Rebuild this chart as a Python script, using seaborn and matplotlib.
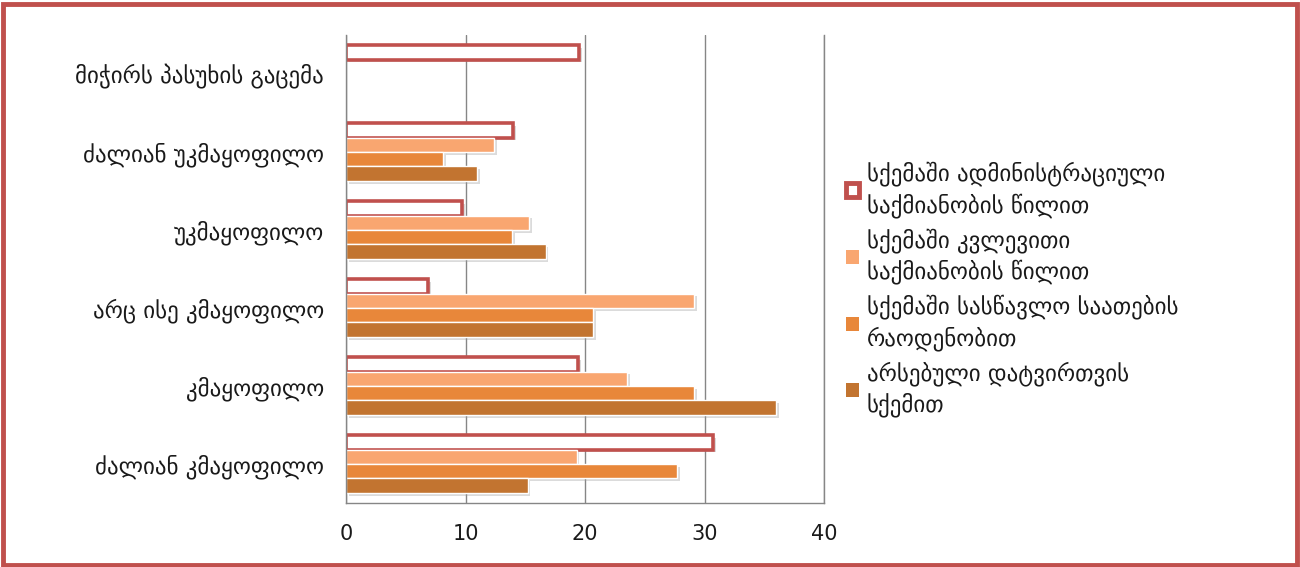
import matplotlib
matplotlib.use("Agg")
import matplotlib.pyplot as plt
import matplotlib.patheffects as pe
from matplotlib.patches import Patch, Rectangle
from matplotlib.ticker import FixedLocator
import seaborn as sns
import pandas as pd

categories = ["მიჭირს პასუხის გაცემა", "ძალიან უკმაყოფილო", "უკმაყოფილო",
              "არც ისე კმაყოფილო", "კმაყოფილო", "ძალიან კმაყოფილო"]
series = ["სქემაში ადმინისტრაციული\nსაქმიანობის წილით",
          "სქემაში კვლევითი\nსაქმიანობის წილით",
          "სქემაში სასწავლო საათების\nრაოდენობით",
          "არსებული დატვირთვის\nსქემით"]
admin = [19.5, 14.0, 9.7, 6.9, 19.4, 30.7]
research = [0, 12.4, 15.3, 29.1, 23.5, 19.3]
teaching = [0, 8.1, 13.9, 20.7, 29.1, 27.7]
current = [0, 11.0, 16.7, 20.7, 36.0, 15.2]
xticks = [0, 10, 20, 30, 40]

c_red = "#C0504D"
colors = ["#FFFFFF", "#F9A670", "#E8873A", "#C27430"]

rows = []
for s, vals in zip(series, [admin, research, teaching, current]):
    for c, v in zip(categories, vals):
        rows.append({"cat": c, "series": s, "value": v})
df = pd.DataFrame(rows)

sns.set_style("white")
plt.rcParams['font.family'] = ['DejaVu Sans']

fig = plt.figure(figsize=(13, 5.67), dpi=100)
ax = fig.add_axes([346/1300, 64/567, 478/1300, 468/567])

sns.barplot(data=df, y="cat", x="value", hue="series", order=categories,
            hue_order=series, palette=colors, saturation=1, orient="h", width=0.74,
            dodge=True, ax=ax, legend=False, errorbar=None)

shadow = [pe.SimplePatchShadow(offset=(2, -2), shadow_rgbFace="#999999", alpha=0.35), pe.Normal()]
for i, cont in enumerate(ax.containers):
    for bar in cont:
        if bar.get_width() <= 0:
            bar.set_visible(False)
            continue
        if i == 0:
            bar.set_facecolor("white")
            bar.set_edgecolor(c_red)
            bar.set_linewidth(2.6)
        else:
            bar.set_edgecolor("white")
            bar.set_linewidth(1.0)
        bar.set_path_effects(shadow)

ax.set_xlim(0, 40)
ax.set_ylim(5.5, -0.5)
ax.xaxis.set_major_locator(FixedLocator(xticks))
ax.set_xticklabels([str(t) for t in xticks])
ax.grid(axis="x", color="#868686", linewidth=1.0)
ax.set_axisbelow(True)
ax.set_xlabel("")
ax.set_ylabel("")
ax.spines["top"].set_visible(False)
for side in ["left", "bottom", "right"]:
    ax.spines[side].set_color("#868686")
    ax.spines[side].set_linewidth(1.0)
ax.yaxis.set_minor_locator(FixedLocator([k - 0.5 for k in range(len(categories) + 1)]))
ax.tick_params(axis="y", which="major", length=0, pad=16, labelsize=16.5, labelcolor="#1a1a1a")
ax.tick_params(axis="y", which="minor", length=5, color="#868686", direction="out")
ax.tick_params(axis="x", which="major", length=5, color="#868686", direction="out",
               labelsize=15, labelcolor="#1a1a1a", pad=10)

handles = [Patch(facecolor="white", edgecolor=c_red, linewidth=3.5)] + \
          [Patch(facecolor=c, edgecolor="none") for c in colors[1:]]
leg = fig.legend(handles, series, loc="center left", bbox_to_anchor=(846/1300, 0.49),
                 frameon=False, fontsize=16.5, handlelength=0.55, handleheight=0.55,
                 handletextpad=0.35, labelspacing=0.45, labelcolor="#1a1a1a",
                 borderpad=0, borderaxespad=0)
for t in leg.get_texts():
    t.set_linespacing(1.35)

fig.patches.append(Rectangle((3/1300, 2/567), 1294/1300, 561/567, transform=fig.transFigure,
                             fill=False, edgecolor=c_red, linewidth=3.5))

fig.savefig("out.png", dpi=100)
